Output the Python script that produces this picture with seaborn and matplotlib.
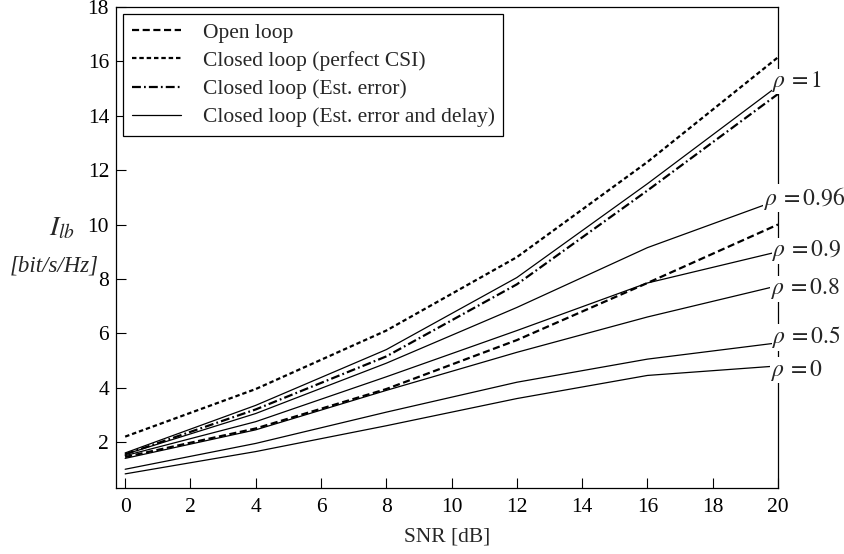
import numpy as np
import pandas as pd
import matplotlib
matplotlib.use("Agg")
import matplotlib.pyplot as plt
import seaborn as sns
from matplotlib.lines import Line2D

# data (SNR in dB, I_lb in bit/s/Hz)
snr = [0, 4, 8, 12, 16, 20]
open_loop = [1.45, 2.5, 3.95, 5.75, 7.85, 10.0]
perfect_csi = [2.2, 3.95, 6.1, 8.8, 12.3, 16.15]
est_error = [1.55, 3.2, 5.15, 7.8, 11.25, 14.8]

rho_labels = ["1", "0.96", "0.9", "0.8", "0.5", "0"]
rho_1 = [1.6, 3.35, 5.4, 8.05, 11.5, 15.1]
rho_096 = [1.55, 3.05, 4.9, 6.95, 9.15, 10.9]
rho_09 = [1.5, 2.75, 4.4, 6.1, 7.85, 9.0]
rho_08 = [1.4, 2.45, 3.9, 5.3, 6.6, 7.75]
rho_05 = [1.0, 1.95, 3.1, 4.2, 5.05, 5.65]
rho_0 = [0.83, 1.65, 2.6, 3.6, 4.45, 4.8]
rho_curves = [rho_1, rho_096, rho_09, rho_08, rho_05, rho_0]
# where the rho annotations sit (x, y) at the right edge
rho_label_x = [19.82, 19.57, 19.82, 19.78, 19.82, 19.78]
rho_label_y = [15.26, 10.97, 9.03, 7.64, 5.85, 4.64]

sns.set_theme(style="ticks")
plt.rcParams["font.family"] = ["Liberation Serif", "DejaVu Serif"]
plt.rcParams["mathtext.fontset"] = "stix"

FS = 15.5
OPEN_LS = (0, (3.2, 1.6))
CSI_LS = (0, (2.0, 1.3))
EST_LS = (0, (4.0, 1.4, 0.8, 1.4))

fig = plt.figure(figsize=(8.45, 5.54), dpi=100)
ax = fig.add_axes([0.1373, 0.1191, 0.7834, 0.8683])

# ── delayed-feedback curves (thin solid) ──────────────────────────────────
for vals in rho_curves:
    sns.lineplot(x=snr, y=vals, ax=ax, color="black", linewidth=0.9, zorder=3)

sns.lineplot(x=snr, y=open_loop, ax=ax, color="black", linewidth=1.6,
             linestyle=OPEN_LS, zorder=3)
sns.lineplot(x=snr, y=perfect_csi, ax=ax, color="black", linewidth=1.6,
             linestyle=CSI_LS, zorder=3)
sns.lineplot(x=snr, y=est_error, ax=ax, color="black", linewidth=1.6,
             linestyle=EST_LS, zorder=3)

for lab, lx, ly in zip(rho_labels, rho_label_x, rho_label_y):
    ax.text(lx, ly, r"$\rho\,=" + lab + "$", fontsize=17, ha="left", va="center",
            bbox=dict(facecolor="white", edgecolor="none", pad=0.3),
            zorder=6, clip_on=False)

ax.set_xlim(-0.28, 20)
ax.set_ylim(0.31, 18)
ax.set_xticks(np.arange(0, 21, 2))
ax.set_yticks(np.arange(2, 19, 2))
ax.tick_params(direction="in", length=7, width=0.8, labelsize=FS, colors="black")
ax.tick_params(axis="x", pad=7)
ax.tick_params(axis="y", pad=5)
for sp in ax.spines.values():
    sp.set_visible(True)
    sp.set_color("black")
    sp.set_linewidth(0.9)

ax.set_xlabel("SNR [dB]", fontsize=FS, labelpad=8)
ax.set_ylabel("")
fig.text(0.073, 0.588, r"$I_{lb}$", fontsize=20, ha="center", va="center")
fig.text(0.064, 0.52, "[bit/s/Hz]", fontsize=16.5, style="italic", ha="center", va="center")

handles = [
    Line2D([], [], color="black", linewidth=1.6, linestyle=OPEN_LS),
    Line2D([], [], color="black", linewidth=1.6, linestyle=CSI_LS),
    Line2D([], [], color="black", linewidth=1.6, linestyle=EST_LS),
    Line2D([], [], color="black", linewidth=0.9),
]
labels = ["Open loop", "Closed loop (perfect CSI)", "Closed loop (Est. error)",
          "Closed loop (Est. error and delay)"]
leg = ax.legend(handles, labels, loc="upper left", bbox_to_anchor=(0.0106, 0.9854),
                borderaxespad=0, fontsize=FS, frameon=True, fancybox=False,
                handlelength=2.3, handletextpad=1.0, labelspacing=0.38, borderpad=0.4)
leg.get_frame().set_edgecolor("black")
leg.get_frame().set_linewidth(0.9)
leg.get_frame().set_alpha(1)
leg.set_zorder(7)

fig.savefig("out.png", dpi=100, facecolor="white")
